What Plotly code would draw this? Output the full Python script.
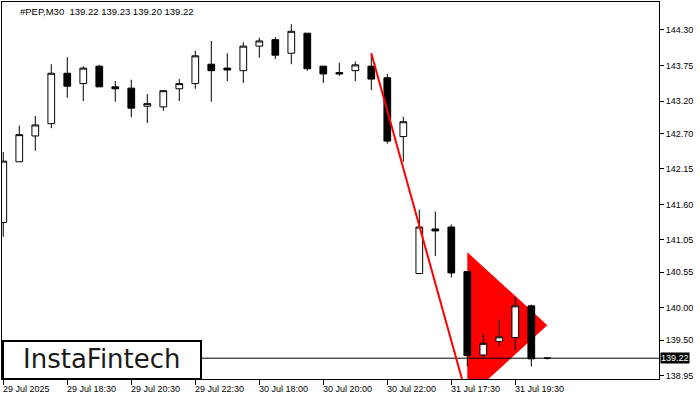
import plotly.graph_objects as go

title_text = "#PEP,M30\u00a0\u00a0139.22 139.23 139.20 139.22"

opens = [141.32, 142.26, 142.66, 142.85, 143.63, 143.47, 143.74, 143.42, 143.40, 143.12,
         143.11, 143.39, 143.47, 143.77, 143.71, 143.67, 144.05, 144.15, 143.94, 144.25,
         143.74, 143.64, 143.67, 143.74, 143.56, 142.65, 140.53, 141.22, 141.25, 140.56,
         139.27, 139.48, 139.54, 140.03, 139.22]
highs = [142.41, 142.82, 142.97, 143.77, 143.88, 143.74, 143.76, 143.51, 143.53, 143.31,
         143.37, 143.54, 143.98, 144.13, 143.94, 144.11, 144.18, 144.19, 144.39, 144.25,
         143.74, 143.79, 143.81, 143.94, 143.62, 142.96, 141.52, 141.49, 141.29, 140.56,
         139.60, 139.82, 140.16, 140.05, 139.23]
lows = [141.10, 142.26, 142.43, 142.78, 143.25, 143.20, 143.42, 143.19, 142.95, 142.86,
        143.05, 143.20, 143.39, 143.19, 143.51, 143.48, 143.87, 143.85, 143.77, 143.67,
        143.48, 143.59, 143.51, 143.37, 142.54, 142.26, 140.53, 140.80, 140.47, 139.09,
        139.21, 139.40, 139.34, 139.09, 139.20]
closes = [142.27, 142.68, 142.83, 143.63, 143.43, 143.71, 143.42, 143.39, 143.09, 143.16,
          143.36, 143.47, 143.90, 143.67, 143.68, 144.05, 144.13, 143.91, 144.28, 143.70,
          143.62, 143.62, 143.76, 143.54, 142.58, 142.88, 141.25, 141.19, 140.54, 139.26,
          139.45, 139.55, 140.03, 139.21, 139.22]
bar_index = list(range(len(opens)))

x_tick_index = [0, 4, 8, 12, 16, 20, 24, 28, 32]
x_tick_text = ["29 Jul 2025", "29 Jul 18:30", "29 Jul 20:30", "29 Jul 22:30",
               "30 Jul 18:00", "30 Jul 20:00", "30 Jul 22:00", "31 Jul 17:30", "31 Jul 19:30"]
y_tick_values = [144.30, 143.75, 143.20, 142.70, 142.15, 141.60, 141.05, 140.55, 140.00, 139.50, 138.95]
y_tick_text = ["144.30", "143.75", "143.20", "142.70", "142.15", "141.60", "141.05",
               "140.55", "140.00", "139.50", "138.95"]

current_price = 139.22

pennant_x = [29, 34, 29]
pennant_y = [140.86, 139.73, 138.60]
pole_x = [23, 29]
pole_y = [143.94, 138.60]

x_range = [-0.08, 40.98]
y_range = [138.898, 144.733]

FONT = "Liberation Sans"

fig = go.Figure()

# pennant: path shape drawn below the candles, in data coordinates
pennant_path = "M " + " L ".join(f"{px},{py}" for px, py in zip(pennant_x, pennant_y)) + " Z"
fig.add_shape(type="path", xref="x", yref="y", path=pennant_path,
              fillcolor="#ff0000", line=dict(color="#ff0000", width=0), layer="below")

# current price line
fig.add_trace(go.Scatter(
    x=x_range, y=[current_price, current_price], mode="lines",
    line=dict(color="black", width=1), hoverinfo="skip", showlegend=False))

fig.add_trace(go.Candlestick(
    x=bar_index, open=opens, high=highs, low=lows, close=closes,
    increasing=dict(line=dict(color="black", width=1), fillcolor="white"),
    decreasing=dict(line=dict(color="black", width=1), fillcolor="black"),
    whiskerwidth=0, hoverinfo="skip", showlegend=False))

# flagpole
fig.add_trace(go.Scatter(
    x=pole_x, y=pole_y, mode="lines",
    line=dict(color="#ff0000", width=2), hoverinfo="skip", showlegend=False))

# x tick labels, left-aligned at the tick as in MT4
for xi, txt in zip(x_tick_index, x_tick_text):
    fig.add_annotation(x=xi, xref="x", y=-0.027, yref="paper", text=txt,
                       showarrow=False, xanchor="left", yanchor="middle", xshift=-2,
                       font=dict(family=FONT, size=9, color="black"))

# title
fig.add_annotation(x=0.0244, xref="paper", y=0.976, yref="paper", text=title_text,
                   showarrow=False, xanchor="left", yanchor="middle",
                   font=dict(family=FONT, size=9.5, color="black"))

# current price label
fig.add_annotation(x=1, xref="paper", y=current_price, yref="y", text="139.22",
                   showarrow=False, xanchor="left", yanchor="middle", xshift=1,
                   bgcolor="black", borderpad=0,
                   font=dict(family=FONT, size=9, color="white"))

# logo box
fig.add_shape(type="rect", xref="paper", yref="paper", x0=0.0015, x1=0.3029, y0=0.0, y1=0.1008,
              fillcolor="white", line=dict(color="black", width=2), layer="above")
fig.add_annotation(x=0.152, xref="paper", y=0.052, yref="paper", text="InstaFintech",
                   showarrow=False, xanchor="center", yanchor="middle",
                   font=dict(family="DejaVu Sans", size=26, color="#1a1a1a"))

fig.update_layout(
    width=700, height=400,
    margin=dict(l=2, r=41, t=2, b=21),
    paper_bgcolor="white", plot_bgcolor="white",
    boxgap=0.4,
    showlegend=False,
    hovermode=False,
    xaxis=dict(range=x_range, showgrid=False, zeroline=False, rangeslider=dict(visible=False),
               tickvals=x_tick_index, showticklabels=False, ticks="outside", ticklen=5,
               tickcolor="black", tickwidth=1,
               showline=True, linecolor="black", linewidth=1, mirror=True),
    yaxis=dict(range=y_range, side="right", showgrid=False, zeroline=False,
               tickvals=y_tick_values, ticktext=y_tick_text, ticks="outside", ticklen=4,
               tickcolor="black", tickwidth=1,
               tickfont=dict(family=FONT, size=9, color="black"),
               showline=True, linecolor="black", linewidth=1, mirror=True),
)

fig.write_html("out.html", config={"displayModeBar": False},
               post_script="document.body.style.margin='0px';document.body.style.overflow='hidden';")
